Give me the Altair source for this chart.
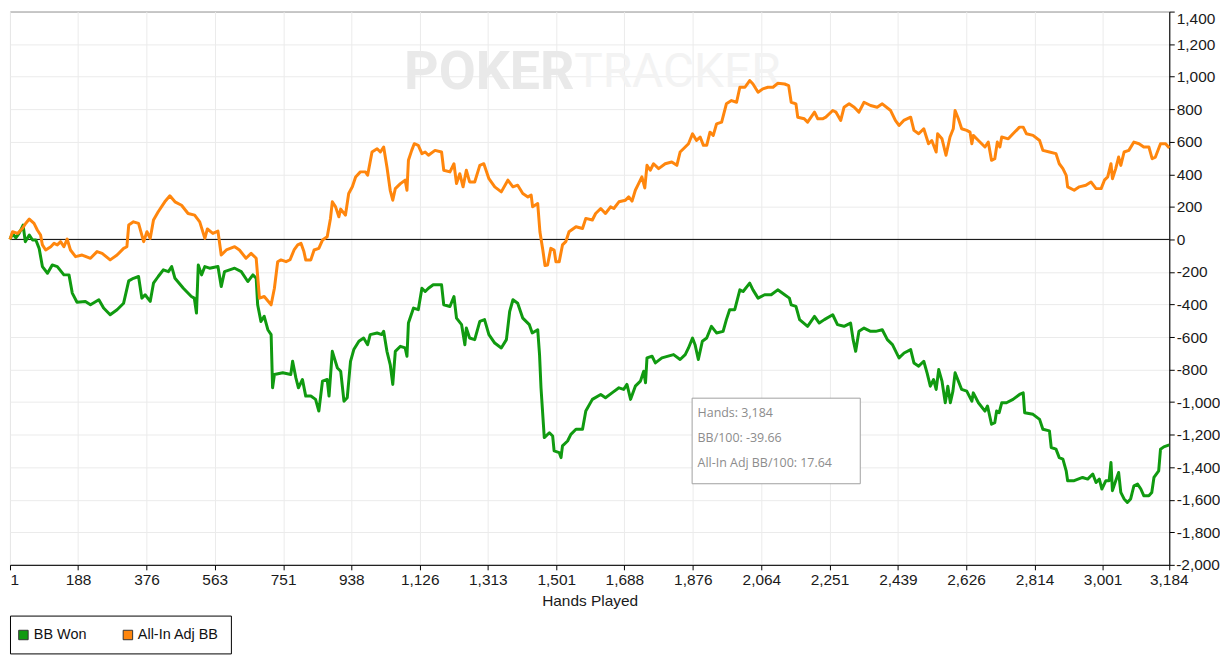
import altair as alt
import pandas as pd

# ---- data ----
bb_won_points = [
    (1, 0), (8, 37), (17, 10), (26, 37), (37, 88), (43, -14), (54, 27), (63, -4), (72, -4), (81, -55),
    (90, -167), (104, -208), (117, -157), (131, -167), (149, -218), (163, -218), (172, -330), (185, -386),
    (208, -381), (222, -402), (245, -371), (258, -422), (276, -463), (295, -432), (313, -392), (327, -255),
    (340, -239), (354, -228), (363, -361), (372, -340), (386, -381), (395, -269), (408, -228), (422, -187),
    (436, -198), (445, -167), (454, -239), (477, -300), (499, -351), (507, -361), (513, -453), (518, -157),
    (527, -218), (536, -167), (549, -177), (572, -167), (581, -290), (590, -198), (618, -177), (636, -198),
    (654, -259), (668, -218), (677, -239), (681, -402), (690, -504), (699, -473), (709, -555), (718, -585),
    (722, -912), (727, -830), (750, -820), (772, -830), (777, -749), (786, -851), (793, -912), (804, -861),
    (813, -963), (827, -963), (840, -983), (849, -1055), (859, -871), (872, -861), (877, -963), (886, -688),
    (900, -790), (909, -810), (918, -994), (927, -973), (936, -749), (945, -677), (959, -626), (972, -606),
    (983, -647), (990, -585), (1009, -575), (1022, -585), (1027, -565), (1036, -688), (1045, -769),
    (1052, -891), (1059, -688), (1073, -657), (1086, -667), (1091, -718), (1095, -514), (1109, -422),
    (1122, -432), (1132, -300), (1141, -320), (1150, -300), (1163, -279), (1186, -279), (1192, -402),
    (1209, -412), (1220, -351), (1227, -484), (1241, -524), (1250, -647), (1254, -545), (1263, -606),
    (1277, -616), (1291, -504), (1304, -493), (1316, -585), (1332, -637), (1350, -667), (1364, -616),
    (1373, -443), (1382, -371), (1395, -392), (1409, -484), (1427, -524), (1435, -575), (1450, -555),
    (1455, -708), (1459, -912), (1468, -1218), (1482, -1188), (1491, -1208), (1495, -1300), (1509, -1310),
    (1514, -1341), (1518, -1269), (1532, -1239), (1541, -1198), (1555, -1167), (1573, -1167), (1582, -1055),
    (1600, -983), (1623, -953), (1636, -973), (1654, -943), (1673, -912), (1686, -922), (1695, -891),
    (1705, -983), (1718, -902), (1732, -871), (1741, -810), (1746, -881), (1750, -728), (1764, -718),
    (1773, -759), (1791, -728), (1823, -708), (1841, -738), (1855, -708), (1864, -667), (1875, -606),
    (1882, -647), (1891, -738), (1902, -626), (1914, -606), (1927, -534), (1941, -575), (1959, -565),
    (1968, -493), (1977, -432), (1991, -432), (2005, -310), (2014, -320), (2032, -269), (2041, -310),
    (2055, -361), (2073, -340), (2091, -340), (2109, -310), (2128, -340), (2141, -361), (2146, -402),
    (2159, -412), (2169, -493), (2191, -534), (2210, -473), (2223, -514), (2237, -493), (2260, -463),
    (2273, -524), (2291, -534), (2309, -514), (2316, -616), (2323, -688), (2332, -565), (2346, -545),
    (2364, -565), (2378, -565), (2396, -555), (2410, -616), (2424, -647), (2442, -728), (2456, -698),
    (2474, -677), (2483, -759), (2496, -779), (2510, -749), (2519, -820), (2528, -902), (2537, -861),
    (2544, -922), (2551, -800), (2560, -871), (2569, -1004), (2576, -902), (2583, -1004), (2590, -932),
    (2596, -820), (2605, -871), (2614, -922), (2628, -932), (2642, -994), (2646, -943), (2660, -1004),
    (2678, -1055), (2685, -1024), (2696, -1136), (2705, -1126), (2710, -1055), (2717, -1065), (2724, -1004),
    (2737, -1004), (2755, -983), (2773, -953), (2783, -943), (2787, -1065), (2810, -1075), (2828, -1106),
    (2837, -1167), (2855, -1177), (2860, -1279), (2873, -1289), (2882, -1341), (2892, -1350), (2901, -1422),
    (2905, -1483), (2923, -1483), (2946, -1463), (2960, -1473), (2974, -1442), (2983, -1494), (2992, -1473),
    (2999, -1534), (3010, -1483), (3019, -1483), (3024, -1371), (3028, -1544), (3037, -1483), (3045, -1432),
    (3051, -1555), (3060, -1595), (3069, -1616), (3078, -1595), (3087, -1514), (3097, -1504), (3106, -1534),
    (3114, -1575), (3128, -1575), (3136, -1555), (3142, -1463), (3155, -1422), (3160, -1289), (3169, -1275),
    (3184, -1263),
]

allin_adj_points = [
    (1, 0), (8, 47), (22, 37), (35, 67), (44, 98), (54, 125), (67, 98), (76, 58), (85, 27), (90, -34),
    (99, -65), (113, -45), (122, -24), (131, -34), (140, -14), (149, -45), (158, 2), (167, -65), (181, -106),
    (199, -96), (222, -116), (240, -75), (254, -86), (276, -126), (295, -96), (313, -55), (322, -45),
    (327, 88), (340, 108), (354, 98), (368, -14), (377, 47), (386, 6), (395, 119), (408, 170), (426, 231),
    (440, 268), (454, 231), (472, 210), (490, 159), (508, 149), (522, 108), (536, 6), (543, 64), (558, 37),
    (572, 51), (581, -96), (595, -65), (618, -45), (631, -65), (649, -116), (663, -86), (677, -116),
    (686, -361), (699, -351), (718, -402), (727, -300), (736, -137), (745, -126), (759, -137), (770, -125),
    (781, -65), (791, -34), (800, -24), (808, -75), (813, -126), (827, -126), (836, -65), (849, -55),
    (859, -4), (872, 16), (881, 129), (886, 231), (895, 200), (904, 139), (909, 186), (922, 149), (931, 282),
    (941, 323), (950, 384), (963, 415), (977, 415), (983, 394), (995, 537), (1009, 557), (1018, 537),
    (1027, 568), (1036, 445), (1045, 302), (1052, 241), (1059, 312), (1073, 343), (1086, 364), (1091, 302),
    (1095, 486), (1104, 547), (1111, 588), (1122, 578), (1132, 527), (1141, 537), (1150, 517), (1168, 547),
    (1186, 537), (1192, 425), (1209, 415), (1220, 465), (1227, 343), (1236, 404), (1245, 323), (1254, 425),
    (1263, 353), (1277, 353), (1291, 455), (1302, 465), (1316, 373), (1332, 323), (1350, 292), (1368, 364),
    (1382, 323), (1395, 333), (1409, 282), (1423, 261), (1432, 272), (1436, 200), (1450, 220), (1456, 47),
    (1464, -65), (1470, -161), (1477, -157), (1486, -55), (1495, -65), (1500, -137), (1509, -137),
    (1518, -34), (1527, -14), (1536, 47), (1555, 78), (1573, 67), (1582, 129), (1600, 119), (1609, 159),
    (1623, 190), (1636, 159), (1650, 200), (1659, 190), (1673, 231), (1691, 241), (1700, 261), (1709, 235),
    (1718, 302), (1727, 343), (1736, 384), (1744, 316), (1750, 455), (1759, 425), (1768, 465), (1782, 435),
    (1800, 465), (1818, 476), (1832, 455), (1841, 537), (1855, 568), (1864, 588), (1875, 649), (1886, 608),
    (1896, 629), (1905, 578), (1914, 578), (1923, 659), (1932, 639), (1941, 710), (1955, 721), (1968, 833),
    (1982, 853), (1996, 843), (2005, 935), (2019, 935), (2032, 976), (2041, 955), (2055, 904), (2068, 925),
    (2082, 935), (2096, 935), (2109, 959), (2128, 955), (2139, 945), (2146, 843), (2159, 833), (2164, 751),
    (2182, 741), (2191, 721), (2210, 782), (2219, 741), (2232, 741), (2241, 751), (2260, 792), (2269, 782),
    (2282, 731), (2291, 812), (2305, 833), (2319, 812), (2332, 782), (2346, 843), (2364, 823), (2382, 812),
    (2396, 833), (2419, 792), (2432, 731), (2442, 700), (2455, 731), (2474, 751), (2483, 670), (2496, 649),
    (2510, 680), (2523, 588), (2532, 608), (2544, 537), (2548, 649), (2560, 618), (2571, 517), (2582, 629),
    (2591, 680), (2596, 792), (2605, 741), (2614, 680), (2628, 670), (2637, 659), (2642, 588), (2646, 639),
    (2660, 608), (2678, 568), (2687, 598), (2696, 486), (2705, 496), (2712, 598), (2719, 568), (2724, 629),
    (2742, 618), (2755, 649), (2773, 690), (2783, 690), (2792, 649), (2810, 639), (2828, 608), (2837, 547),
    (2855, 537), (2873, 527), (2882, 465), (2892, 435), (2901, 394), (2905, 323), (2923, 302), (2937, 323),
    (2955, 333), (2969, 353), (2983, 312), (2997, 312), (3006, 364), (3015, 384), (3024, 465), (3028, 373),
    (3037, 435), (3045, 506), (3051, 455), (3060, 537), (3073, 547), (3087, 598), (3101, 588), (3114, 568),
    (3128, 568), (3137, 496), (3146, 506), (3160, 588), (3174, 588), (3184, 562),
]

series_names = ["BB Won", "All-In Adj BB"]
series_colors = ["#109a10", "#ff860d"]
x_ticks = [1, 188, 376, 563, 751, 938, 1126, 1313, 1501, 1688, 1876, 2064, 2251, 2439, 2626, 2814, 3001, 3184]
y_ticks = [-2000, -1800, -1600, -1400, -1200, -1000, -800, -600, -400, -200, 0,
           200, 400, 600, 800, 1000, 1200, 1400]
last_x_label = ["3,184"]
last_y_label = ["-2,000"]
tooltip_lines = ["Hands: 3,184", "BB/100: -39.66", "All-In Adj BB/100: 17.64"]
watermark_parts = ["POKER", "TRACKER"]

# ---- build table ----
frames = []
for name, pts in zip(series_names, [bb_won_points, allin_adj_points]):
    f = pd.DataFrame(pts, columns=["hand", "bb"])
    f["series"] = name
    f["idx"] = range(len(f))
    frames.append(f)
df = pd.concat(frames, ignore_index=True)

W, H = 1165, 556
x_scale = alt.Scale(domain=[1, 3184], nice=False, zero=False)
y_scale = alt.Scale(domain=[-2000, 1400], nice=False, zero=False)

AXIS_FONT = "Liberation Sans"
FS = 15.5
LFS = 14.5
MINUS = "\u2212"

x_axis = alt.Axis(values=x_ticks, format=",d", title="Hands Played", labelFont=AXIS_FONT,
                  labelFontSize=FS, labelColor="#1a1a1a", titleFont=AXIS_FONT, titleFontSize=FS,
                  titleFontWeight="normal", titleColor="#1a1a1a", titlePadding=5, tickSize=5,
                  tickColor="#000", domainColor="#000", gridColor="#ebebeb", labelOverlap=False,
                  labelPadding=3, labelFlush=True,
                  labelExpr="datum.value == 3184 ? '' : datum.label")
y_axis = alt.Axis(orient="right", values=y_ticks, format=",d", labelFont=AXIS_FONT,
                  labelFontSize=FS, labelColor="#1a1a1a", tickSize=5, tickColor="#000",
                  domainColor="#000", gridColor="#ebebeb", labelOverlap=False, labelPadding=2,
                  labelFlush=True, labelBound=False, title=None,
                  labelExpr="datum.value == -2000 ? '' : replace(datum.label, '" + MINUS + "', '-')")

watermark1 = alt.Chart(pd.DataFrame({"t": [watermark_parts[0]]})).mark_text(
    align="left", baseline="middle", font="Roboto", fontSize=54, fontWeight="bold", color="#e9e9e9"
).encode(x=alt.value(396), y=alt.value(62), text="t:N")
watermark2 = alt.Chart(pd.DataFrame({"t": [watermark_parts[1]]})).mark_text(
    align="left", baseline="middle", font="Roboto", fontSize=48, fontWeight="normal", color="#f3f3f3"
).encode(x=alt.value(567), y=alt.value(62), text="t:N")

zero_rule = alt.Chart(pd.DataFrame({"bb": [0]})).mark_rule(color="#000", strokeWidth=1).encode(
    y=alt.Y("bb:Q", scale=y_scale, axis=y_axis)
)

lines = alt.Chart(df).mark_line(strokeWidth=3, strokeJoin="round").encode(
    x=alt.X("hand:Q", scale=x_scale, axis=x_axis),
    y=alt.Y("bb:Q", scale=y_scale, axis=y_axis),
    color=alt.Color("series:N", scale=alt.Scale(domain=series_names, range=series_colors), legend=None),
    order="idx:Q",
)

# end labels drawn centred on their ticks (as in the reference)
x_end_label = alt.Chart(pd.DataFrame({"hand": [x_ticks[-1]], "t": last_x_label})).mark_text(
    align="center", baseline="top", font=AXIS_FONT, fontSize=FS, color="#1a1a1a"
).encode(x=alt.X("hand:Q", scale=x_scale, axis=x_axis), y=alt.value(H + 8), text="t:N")
y_end_label = alt.Chart(pd.DataFrame({"bb": [y_ticks[0]], "t": last_y_label})).mark_text(
    align="left", baseline="middle", font=AXIS_FONT, fontSize=FS, color="#1a1a1a"
).encode(y=alt.Y("bb:Q", scale=y_scale, axis=y_axis), x=alt.value(W + 7), text="t:N")

# tooltip box
tip_box = alt.Chart(pd.DataFrame({"a": [0]})).mark_rect(
    fill="#ffffff", stroke="#a0a0a0", strokeWidth=1
).encode(x=alt.value(685.5), x2=alt.value(854.5), y=alt.value(388.5), y2=alt.value(474.5))

tip_texts = []
for i, line in enumerate(tooltip_lines):
    tip_texts.append(
        alt.Chart(pd.DataFrame({"t": [line]})).mark_text(
            align="left", baseline="middle", font="Open Sans", fontSize=12.5, color="#8c8c8c"
        ).encode(x=alt.value(691), y=alt.value(403 + i * 25.5), text="t:N")
    )

# legend box drawn below the plot
legend_box = alt.Chart(pd.DataFrame({"a": [0]})).mark_rect(
    fill="#ffffff", stroke="#000", strokeWidth=1
).encode(x=alt.value(0.5), x2=alt.value(222.5), y=alt.value(607.5), y2=alt.value(645.5))

legend_layers = []
sym_x = [13.5, 118.5]
lab_x = [24, 128.5]
for name, col, sx, lx in zip(series_names, series_colors, sym_x, lab_x):
    legend_layers.append(
        alt.Chart(pd.DataFrame({"t": [name]})).mark_square(
            size=90, filled=True, fill=col, stroke="#333", strokeWidth=1, opacity=1
        ).encode(x=alt.value(sx), y=alt.value(626.5))
    )
    legend_layers.append(
        alt.Chart(pd.DataFrame({"t": [name]})).mark_text(
            align="left", baseline="middle", font=AXIS_FONT, fontSize=LFS, color="#111"
        ).encode(x=alt.value(lx), y=alt.value(627), text="t:N")
    )

chart = alt.layer(watermark1, watermark2, zero_rule, lines, x_end_label, y_end_label,
                  tip_box, *tip_texts, legend_box, *legend_layers).properties(
    width=W, height=H,
    padding={"left": 0, "top": 1, "right": 0, "bottom": 0},
    background="#ffffff",
).configure_view(stroke="#444", strokeWidth=1)

chart.save("out.html", embed_options={"renderer": "svg", "actions": False})
